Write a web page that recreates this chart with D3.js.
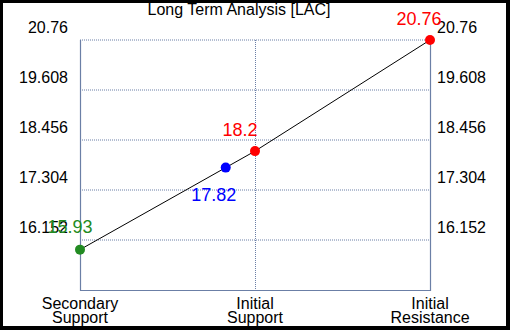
<!DOCTYPE html>
<meta charset="utf-8">
<script src="https://d3js.org/d3.v7.min.js"></script>
<style>
  body { margin: 0; background: #000; }
  text { font-family: "Liberation Sans", Arial, sans-serif; }
</style>
<div id="chart"></div>
<script>
// data
var title = "Long Term Analysis [LAC]";
var categories = [["Secondary", "Support"], ["Initial", "Support"], ["Initial", "Resistance"]];
var yTicks = [16.152, 17.304, 18.456, 19.608, 20.76];
var yMin = 15, yMax = 20.76;
// points: value, category slot, colour
var pointValues = [15.93, 17.82, 18.2, 20.76];
var pointColors = ["#228b22", "#0000ff", "#ff0000", "#ff0000"];
var pointSlots = [0, null, 1, 2]; // blue sits on the line between slot 0 and 1

// blue x is interpolated along the segment green -> initial support
pointSlots[1] = (pointValues[1] - pointValues[0]) / (pointValues[2] - pointValues[0]);

var W = 510, H = 330;
var margin = {top: 40, right: 80, bottom: 40, left: 80},
    width = W - margin.left - margin.right,
    height = H - margin.top - margin.bottom;

var svg = d3.select("#chart").append("svg")
    .attr("width", W).attr("height", H);

// black frame with white card
svg.append("rect").attr("width", W).attr("height", H).attr("fill", "#000");
svg.append("rect").attr("x", 3).attr("y", 3).attr("width", 503).attr("height", 323).attr("fill", "#fff");

svg.append("text")
    .attr("x", 239).attr("y", 15)
    .attr("text-anchor", "middle")
    .style("font-size", "16px")
    .text(title);

var g = svg.append("g").attr("transform", "translate(" + margin.left + "," + margin.top + ")");

var x = d3.scaleLinear().domain([0, categories.length - 1]).range([0, width]);
var y = d3.scaleLinear().domain([yMin, yMax]).range([height, 0]);

var gridColor = "#6b7fa6";

// horizontal dotted grid
g.selectAll(".hgrid").data(yTicks).enter().append("line")
    .attr("x1", 0).attr("x2", width)
    .attr("y1", function(d) { return y(d); })
    .attr("y2", function(d) { return y(d); })
    .attr("stroke", gridColor).attr("stroke-dasharray", "1,1");

// vertical dotted grid (middle category)
g.append("line")
    .attr("x1", x(1) + 0.5).attr("x2", x(1) + 0.5)
    .attr("y1", 0).attr("y2", height)
    .attr("stroke", gridColor).attr("stroke-dasharray", "1,1");

// solid frame: left, right, bottom
g.append("path")
    .attr("d", "M0.5,0V" + (height + 0.5) + "H" + (width + 0.5) + "V0")
    .attr("fill", "none").attr("stroke", gridColor).attr("stroke-width", 1.2);

// y tick labels both sides
g.selectAll(".ylab-l").data(yTicks).enter().append("text")
    .attr("x", -12).attr("y", function(d) { return y(d) - 7; })
    .attr("text-anchor", "end")
    .style("font-size", "16px")
    .text(function(d) { return d; });
g.selectAll(".ylab-r").data(yTicks).enter().append("text")
    .attr("x", width + 7).attr("y", function(d) { return y(d) - 7; })
    .attr("text-anchor", "start")
    .style("font-size", "16px")
    .text(function(d) { return d; });

// category labels
var cat = g.selectAll(".cat").data(categories).enter().append("text")
    .attr("text-anchor", "middle")
    .style("font-size", "16px")
    .attr("transform", function(d, i) { return "translate(" + x(i) + "," + (height + 19) + ")"; });
cat.append("tspan").attr("x", 0).attr("y", 0).text(function(d) { return d[0]; });
cat.append("tspan").attr("x", 0).attr("y", 14).text(function(d) { return d[1]; });

// line
var pts = pointValues.map(function(v, i) { return {v: v, s: pointSlots[i], c: pointColors[i]}; });
g.append("path")
    .datum(pts)
    .attr("fill", "none").attr("stroke", "#000").attr("stroke-width", 1)
    .attr("d", d3.line().x(function(d) { return x(d.s); }).y(function(d) { return y(d.v); }));

g.selectAll(".pt").data(pts).enter().append("circle")
    .attr("cx", function(d) { return x(d.s); })
    .attr("cy", function(d) { return y(d.v); })
    .attr("r", 5)
    .attr("fill", function(d) { return d.c; });

// value labels
var labOff = [[-10, -17], [-12, 33], [-15, -15], [-11, -15]];
g.selectAll(".vlab").data(pts).enter().append("text")
    .attr("x", function(d, i) { return x(d.s) + labOff[i][0]; })
    .attr("y", function(d, i) { return y(d.v) + labOff[i][1]; })
    .attr("text-anchor", "middle")
    .attr("fill", function(d) { return d.c; })
    .style("font-size", "18px")
    .text(function(d) { return d.v; });
</script>
